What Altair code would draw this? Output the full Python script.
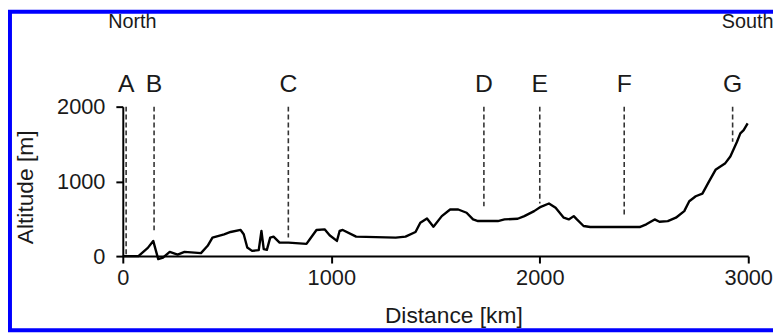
import altair as alt
import pandas as pd

# ---- data ----
profile_km = [0, 75, 120, 146, 160, 170, 193, 225, 263, 296,
              375, 407, 430, 486, 517, 565, 580, 597, 620, 652,
              665, 676, 691, 707, 723, 752, 795, 881, 897, 929,
              968, 992, 1027, 1040, 1055, 1119, 1309, 1356, 1404, 1427,
              1459, 1490, 1530, 1570, 1609, 1649, 1680, 1704, 1799, 1831,
              1894, 1926, 1973, 2005, 2044, 2076, 2115, 2139, 2163, 2178,
              2210, 2242, 2479, 2511, 2551, 2574, 2614, 2653, 2693, 2717,
              2748, 2780, 2812, 2843, 2890, 2914, 2946, 2962, 2978, 2997]
profile_m = [0, 0, 110, 203, 60, -40, -20, 57, 20, 57,
             40, 138, 248, 292, 323, 350, 292, 115, 70, 80,
             336, 93, 84, 248, 261, 181, 181, 164, 225, 350,
             358, 279, 203, 336, 350, 261, 248, 261, 323, 447,
             504, 394, 535, 624, 624, 580, 491, 469, 469, 491,
             500, 535, 602, 660, 704, 646, 514, 491, 535, 491,
             403, 389, 389, 425, 491, 460, 469, 514, 602, 735,
             801, 837, 1000, 1155, 1244, 1332, 1531, 1643, 1687, 1776]

site_labels = ["A", "B", "C", "D", "E", "F", "G"]
site_km = [16, 150, 794, 1732, 2000, 2405, 2925]
site_line_top = [2000, 2000, 2000, 2000, 2000, 2000, 2000]
site_line_bottom = [0, 316, 248, 668, 704, 535, 1531]
site_label_alt = [2195, 2195, 2195, 2195, 2195, 2195, 2195]

dir_labels = ["North", "South"]
dir_km = [46, 2873]
dir_alt = [3058, 3058]

x_ticks = [0, 1000, 2000, 3000]
y_ticks = [0, 1000, 2000]

FONT = "Liberation Sans"
TXT = "#1a1a1a"

profile = pd.DataFrame({"km": profile_km, "m": profile_m})
sites = pd.DataFrame({"label": site_labels, "km": site_km, "top": site_line_top,
                      "bottom": site_line_bottom, "lab_alt": site_label_alt})
dirs = pd.DataFrame({"label": dir_labels, "km": dir_km, "alt": dir_alt})

W, H = 632, 151

xscale = alt.Scale(domain=[0, 3000], nice=False, zero=False)
yscale = alt.Scale(domain=[0, 2000], nice=False, zero=False)

xaxis = alt.Axis(values=x_ticks, format="d", title="Distance [km]", grid=False,
                 tickSize=7, tickWidth=2, domainWidth=2, domainColor="black",
                 tickColor="black", labelFontSize=22, labelColor=TXT, labelFont=FONT,
                 labelPadding=5, titleFontSize=23, titleFont=FONT, titleColor=TXT,
                 titleFontWeight="normal", titleX=334, titleY=67,
                 titleBaseline="alphabetic", titleAlign="center", labelFlush=False)
yaxis = alt.Axis(values=y_ticks, format="d", title="Altitude [m]", grid=False,
                 tickSize=7, tickWidth=2, domainWidth=2, domainColor="black",
                 tickColor="black", labelFontSize=22, labelColor=TXT, labelFont=FONT,
                 labelPadding=11, titleFontSize=23, titleFont=FONT, titleColor=TXT,
                 titleFontWeight="normal", titleAngle=270, titleX=-91, titleY=81,
                 titleBaseline="alphabetic", titleAlign="center", labelFlush=False)

line = alt.Chart(profile).mark_line(color="black", strokeWidth=2.4, clip=False,
                                    strokeJoin="round").encode(
    x=alt.X("km:Q", scale=xscale, axis=xaxis),
    y=alt.Y("m:Q", scale=yscale, axis=yaxis),
    order="km:Q",
)

rules = alt.Chart(sites).mark_rule(color="#333333", strokeWidth=1.6,
                                   strokeDash=[5, 3]).encode(
    x="km:Q", y="top:Q", y2="bottom:Q"
)

letters = alt.Chart(sites).mark_text(fontSize=25, font=FONT, color=TXT,
                                     baseline="alphabetic", align="center").encode(
    x="km:Q", y="lab_alt:Q", text="label:N"
)

north = alt.Chart(dirs[dirs.label == "North"]).mark_text(
    fontSize=20, font=FONT, color=TXT, baseline="alphabetic", align="center").encode(
    x="km:Q", y="alt:Q", text="label:N")
south = alt.Chart(dirs[dirs.label == "South"]).mark_text(
    fontSize=20, font=FONT, color=TXT, baseline="alphabetic", align="left").encode(
    x="km:Q", y="alt:Q", text="label:N")

frame = alt.Chart(pd.DataFrame({"k": [0]})).mark_rect(
    fill=None, stroke="#0000ff", strokeWidth=4).encode(
    x=alt.value(-114), x2=alt.value(W + 60), y=alt.value(-96), y2=alt.value(H + 75)
)

chart = alt.layer(rules, line, letters, north, south, frame).properties(
    width=W, height=H,
    autosize=alt.AutoSizeParams(type="none"),
    padding={"left": 116, "top": 98, "right": 25, "bottom": 76},
    background="white",
).configure_view(stroke=None)

chart.save("out.html", embed_options={"renderer": "svg", "actions": False})
